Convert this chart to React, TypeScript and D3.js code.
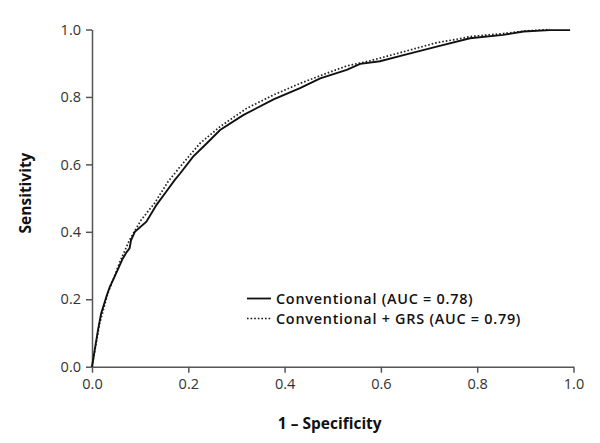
import React, { useRef, useEffect } from "react";
import * as d3 from "d3";

// ROC points: [1 - specificity, sensitivity]
const conventional: [number, number][] = [
  [0, 0], [0.0125, 0.109], [0.019, 0.158], [0.03, 0.208], [0.037, 0.237],
  [0.047, 0.267], [0.064, 0.321], [0.072, 0.34], [0.078, 0.351], [0.081, 0.375],
  [0.089, 0.4], [0.113, 0.43], [0.134, 0.48], [0.154, 0.519], [0.172, 0.554],
  [0.183, 0.573], [0.21, 0.623], [0.238, 0.662], [0.266, 0.702], [0.314, 0.746],
  [0.377, 0.793], [0.432, 0.826], [0.474, 0.855], [0.529, 0.88], [0.557, 0.898],
  [0.598, 0.906], [0.647, 0.924], [0.716, 0.949], [0.785, 0.974], [0.854, 0.984],
  [0.896, 0.994], [0.951, 0.998], [0.993, 0.998],
];

const withGrs: [number, number][] = [
  [0, 0], [0.016, 0.129], [0.033, 0.218], [0.058, 0.311], [0.078, 0.376],
  [0.102, 0.435], [0.13, 0.485], [0.158, 0.549], [0.183, 0.593], [0.224, 0.662],
  [0.266, 0.712], [0.321, 0.766], [0.377, 0.806], [0.432, 0.84], [0.487, 0.87],
  [0.529, 0.892], [0.577, 0.907], [0.647, 0.934], [0.716, 0.961], [0.757, 0.971],
  [0.785, 0.979], [0.854, 0.988], [0.903, 0.996], [0.951, 1.0],
];

const ticks = [0, 0.2, 0.4, 0.6, 0.8, 1.0];
const legendLabels = ["Conventional (AUC = 0.78)", "Conventional + GRS (AUC = 0.79)"];

const App = () => {
  const svgRef = useRef<SVGSVGElement>(null);

  useEffect(() => {
    const svg = d3.select(svgRef.current);
    svg.selectAll("*").remove();

    const left = 92, right = 573.5, top = 29.5, bottom = 366.7;
    const font = "'Open Sans', sans-serif";

    const x = d3.scaleLinear().domain([0, 1]).range([left, right]);
    const y = d3.scaleLinear().domain([0, 1]).range([bottom, top]);

    // axes
    const xAxis = svg
      .append("g")
      .attr("transform", `translate(0,${bottom})`)
      .call(
        d3.axisBottom(x).tickValues(ticks).tickFormat(d3.format(".1f"))
          .tickSize(6).tickSizeOuter(0).tickPadding(6)
      );
    const yAxis = svg
      .append("g")
      .attr("transform", `translate(${left},0)`)
      .call(
        d3.axisLeft(y).tickValues(ticks).tickFormat(d3.format(".1f"))
          .tickSize(6).tickSizeOuter(0).tickPadding(5)
      );
    [xAxis, yAxis].forEach((a) => {
      a.selectAll("path, line").attr("stroke", "#555").attr("stroke-width", 1.5);
      a.selectAll("text")
        .attr("fill", "#333")
        .style("font-family", font)
        .style("font-size", "14.5px");
    });

    // curves
    const line = d3
      .line<[number, number]>()
      .x((d) => x(d[0]))
      .y((d) => y(d[1]))
      .curve(d3.curveLinear);

    svg.append("path")
      .datum(withGrs)
      .attr("d", line)
      .attr("fill", "none")
      .attr("stroke", "#222")
      .attr("stroke-width", 1.7)
      .attr("stroke-dasharray", "1.6,2");

    svg.append("path")
      .datum(conventional)
      .attr("d", line)
      .attr("fill", "none")
      .attr("stroke", "#111")
      .attr("stroke-width", 1.9);

    // legend
    const legend = svg.append("g").attr("transform", "translate(247,298.5)");
    legendLabels.forEach((label, i) => {
      const row = legend.append("g").attr("transform", `translate(0,${i * 20})`);
      row.append("line")
        .attr("x1", 0).attr("x2", 24)
        .attr("y1", 0).attr("y2", 0)
        .attr("stroke", "#111")
        .attr("stroke-width", i === 0 ? 1.8 : 1.6)
        .attr("stroke-dasharray", i === 0 ? null : "1.6,2");
      row.append("text")
        .attr("x", 29)
        .attr("y", 5.2)
        .attr("fill", "#111")
        .style("font-family", font)
        .style("font-size", "14.4px")
        .style("letter-spacing", "0.75px")
        .style("font-weight", 600)
        .text(label);
    });

    // axis titles
    svg.append("text")
      .attr("x", (left + right) / 2 - 3)
      .attr("y", 429)
      .attr("text-anchor", "middle")
      .attr("fill", "#111")
      .style("font-family", font)
      .style("font-size", "15.5px")
      .style("font-weight", 700)
      .text("1 – Specificity");

    svg.append("text")
      .attr("transform", `translate(31,193) rotate(-90)`)
      .attr("text-anchor", "middle")
      .attr("fill", "#111")
      .style("font-family", font)
      .style("font-size", "15.5px")
      .style("font-weight", 700)
      .text("Sensitivity");
  }, []);

  return (
    <svg
      ref={svgRef}
      width={600}
      height={443}
      style={{ position: "absolute", left: 0, top: 0, background: "#fff" }}
    />
  );
};

export default App;
